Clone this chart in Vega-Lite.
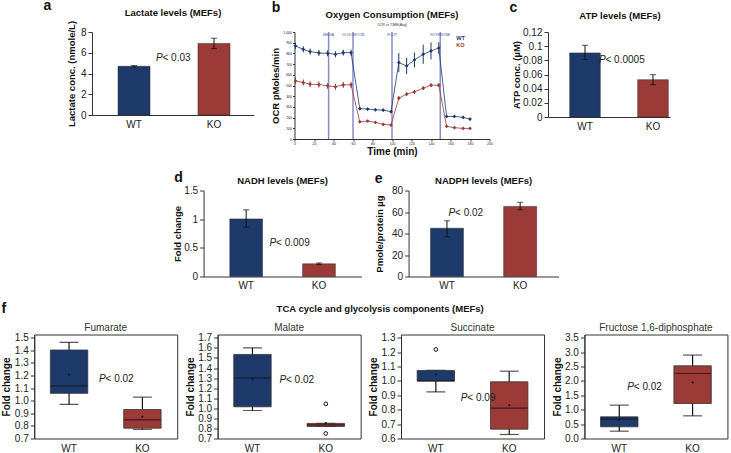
{
"$schema": "https://vega.github.io/schema/vega-lite/v6.json",
"padding": {"left": 1, "top": -1, "right": 2, "bottom": 0},
"background": "white",
"config": {
  "font": "Liberation Sans",
  "view": {"stroke": null},
  "axis": {"grid": false, "domainColor": "#333", "tickColor": "#333", "labelColor": "#222", "titleColor": "#111", "labelFontSize": 10, "titleFontSize": 9.5, "titleFontWeight": "bold", "tickSize": 4, "labelPadding": 2, "titlePadding": 4, "labelOverlap": false, "labelFlush": false, "labelFont": "Liberation Sans", "titleFont": "Liberation Sans"},
  "title": {"fontSize": 9.5, "fontWeight": "bold", "color": "#111", "font": "Liberation Sans"},
  "text": {"font": "Liberation Sans"}
},
"datasets": {
  "ocr": [
    {"t":1,"g":"WT","v":870,"lo":840,"hi":900},{"t":9,"g":"WT","v":838,"lo":810,"hi":866},{"t":16,"g":"WT","v":817,"lo":789,"hi":845},{"t":25,"g":"WT","v":804,"lo":776,"hi":832},{"t":34,"g":"WT","v":801,"lo":773,"hi":829},{"t":42,"g":"WT","v":792,"lo":764,"hi":820},{"t":50,"g":"WT","v":807,"lo":779,"hi":835},{"t":58,"g":"WT","v":807,"lo":779,"hi":835},
    {"t":67,"g":"WT","v":283,"lo":271,"hi":295},{"t":75,"g":"WT","v":280,"lo":268,"hi":292},{"t":83,"g":"WT","v":273,"lo":261,"hi":285},{"t":91,"g":"WT","v":270,"lo":258,"hi":282},{"t":99,"g":"WT","v":255,"lo":243,"hi":267},
    {"t":107,"g":"WT","v":714,"lo":624,"hi":804},{"t":115,"g":"WT","v":683,"lo":608,"hi":758},{"t":123,"g":"WT","v":739,"lo":669,"hi":809},{"t":132,"g":"WT","v":792,"lo":702,"hi":882},{"t":140,"g":"WT","v":823,"lo":743,"hi":903},{"t":148,"g":"WT","v":851,"lo":796,"hi":906},
    {"t":156,"g":"WT","v":211,"lo":199,"hi":223},{"t":164,"g":"WT","v":211,"lo":199,"hi":223},{"t":173,"g":"WT","v":202,"lo":190,"hi":214},{"t":180,"g":"WT","v":186,"lo":174,"hi":198},
    {"t":1,"g":"KO","v":543,"lo":513,"hi":573},{"t":9,"g":"KO","v":528,"lo":500,"hi":556},{"t":16,"g":"KO","v":512,"lo":484,"hi":540},{"t":25,"g":"KO","v":509,"lo":481,"hi":537},{"t":34,"g":"KO","v":497,"lo":469,"hi":525},{"t":42,"g":"KO","v":488,"lo":460,"hi":516},{"t":50,"g":"KO","v":506,"lo":478,"hi":534},{"t":58,"g":"KO","v":506,"lo":478,"hi":534},
    {"t":67,"g":"KO","v":161,"lo":151,"hi":171},{"t":75,"g":"KO","v":168,"lo":158,"hi":178},{"t":83,"g":"KO","v":155,"lo":145,"hi":165},{"t":91,"g":"KO","v":137,"lo":127,"hi":147},{"t":99,"g":"KO","v":130,"lo":120,"hi":140},
    {"t":107,"g":"KO","v":382,"lo":362,"hi":402},{"t":115,"g":"KO","v":419,"lo":401,"hi":437},{"t":123,"g":"KO","v":441,"lo":423,"hi":459},{"t":132,"g":"KO","v":475,"lo":457,"hi":493},{"t":140,"g":"KO","v":503,"lo":485,"hi":521},{"t":148,"g":"KO","v":503,"lo":485,"hi":521},
    {"t":156,"g":"KO","v":118,"lo":110,"hi":126},{"t":164,"g":"KO","v":106,"lo":98,"hi":114},{"t":173,"g":"KO","v":99,"lo":91,"hi":107},{"t":180,"g":"KO","v":99,"lo":91,"hi":107}
  ]
},
"center": true,
"spacing": 14.5,
"vconcat": [
 {
  "spacing": 16.5,
  "hconcat": [
   {
    "width": 162, "height": 83,
    "data": {"values": [{"g":"WT","v":4.7,"lo":4.64,"hi":4.76},{"g":"KO","v":6.9,"lo":6.4,"hi":7.4}]},
    "encoding": {"x": {"field":"g","type":"nominal","sort":["WT","KO"],"scale":{"paddingInner":0.6,"paddingOuter":0.3125,"align":0.52},"axis":{"title":null,"labelAngle":0,"ticks":false,"labelPadding":4}}},
    "layer": [
     {"mark":{"type":"bar","stroke":"#2a2a2a","strokeWidth":0.5},"encoding":{"y":{"field":"v","type":"quantitative","scale":{"domain":[0,8],"nice":false},"axis":{"title":"Lactate conc. (nmole/L)","values":[0,2,4,6,8],"format":"~g","tickCount":20,"labelOverlap":false,"titlePadding":4}},"color":{"field":"g","type":"nominal","scale":{"domain":["WT","KO"],"range":["#1e3a6b","#9b3a37"]},"legend":null}}},
     {"mark":{"type":"rule","color":"#111","strokeWidth":1},"encoding":{"y":{"field":"lo","type":"quantitative"},"y2":{"field":"hi"}}},
     {"mark":{"type":"tick","color":"#111","size":6,"thickness":1},"encoding":{"y":{"field":"lo","type":"quantitative"}}},
     {"mark":{"type":"tick","color":"#111","size":6,"thickness":1},"encoding":{"y":{"field":"hi","type":"quantitative"}}},
     {"data":{"values":[{"g":"WT","y":5.45,"p":"P","r":"< 0.03"}]},"mark":{"type":"text","align":"left","baseline":"middle","fontStyle":"italic","fontSize":10,"dx":22,"color":"#222"},"encoding":{"y":{"field":"y","type":"quantitative"},"text":{"field":"p"}}},
     {"data":{"values":[{"g":"WT","y":5.45,"p":"P","r":"< 0.03"}]},"mark":{"type":"text","align":"left","baseline":"middle","fontSize":10,"dx":28.5,"color":"#222"},"encoding":{"y":{"field":"y","type":"quantitative"},"text":{"field":"r"}}},
     {"data":{"values":[{"g":"WT","y":8,"t":"Lactate levels (MEFs)"}]},"mark":{"type":"text","align":"center","baseline":"middle","fontSize":9.5,"fontWeight":"bold","dx":39,"dy":-19,"color":"#111"},"encoding":{"y":{"field":"y","type":"quantitative"},"text":{"field":"t"}}},
     {"data":{"values":[{"g":"WT","y":8,"l":"a"}]},"mark":{"type":"text","align":"center","baseline":"alphabetic","fontSize":14,"fontWeight":"bold","dx":-86.5,"dy":-22,"color":"#111"},"encoding":{"y":{"field":"y","type":"quantitative"},"text":{"field":"l"}}}
    ]
   },
   {
    "width": 195, "height": 107,
    "layer": [
     {"data":{"values":[{"t":35,"lab":"MEDIA"},{"t":60,"lab":"OLIGOMYCIN"},{"t":100,"lab":"FCCP"},{"t":149.5,"lab":"ROTENONE"}]},
      "mark":{"type":"rule","color":"#8a8ec6","strokeWidth":1.5},
      "encoding":{"x":{"field":"t","type":"quantitative","scale":{"domain":[0,200],"nice":false},"axis":{"title":"Time (min)","values":[0,20,40,60,80,100,120,140,160,180,200],"tickCount":30,"labelOverlap":false,"labelFontSize":3.5,"tickSize":2,"labelPadding":0,"titleFontSize":10,"titlePadding":1.5}}}},
     {"data":{"values":[{"t":35,"lab":"MEDIA"},{"t":60,"lab":"OLIGOMYCIN"},{"t":100,"lab":"FCCP"},{"t":149.5,"lab":"ROTENONE"}]},
      "mark":{"type":"text","fontSize":3.5,"color":"#4a4e9a","baseline":"middle"},
      "encoding":{"x":{"field":"t","type":"quantitative"},"y":{"datum":975},"text":{"field":"lab"}}},
     {"data":{"name":"ocr"},"mark":{"type":"rule","strokeWidth":1},
      "encoding":{"x":{"field":"t","type":"quantitative"},"y":{"field":"lo","type":"quantitative","scale":{"domain":[0,1000],"nice":false},"axis":{"title":"OCR pMoles/min","values":[0,100,200,300,400,500,600,700,800,900,1000],"tickCount":30,"labelOverlap":false,"labelFontSize":3.5,"tickSize":2,"labelPadding":1,"titlePadding":2}},"y2":{"field":"hi"},"color":{"field":"g","type":"nominal","scale":{"domain":["WT","KO"],"range":["#3b3f9c","#e04a42"]},"legend":null}}},
     {"data":{"name":"ocr"},"mark":{"type":"line","strokeWidth":0.8},
      "encoding":{"x":{"field":"t","type":"quantitative"},"y":{"field":"v","type":"quantitative"},"color":{"field":"g","type":"nominal","legend":null}}},
     {"data":{"name":"ocr"},"mark":{"type":"point","shape":"diamond","filled":true,"size":14,"opacity":1},
      "encoding":{"x":{"field":"t","type":"quantitative"},"y":{"field":"v","type":"quantitative"},"color":{"field":"g","type":"nominal","legend":null}}},
     {"data":{"values":[{"t":166,"v":947,"g":"WT"},{"t":166,"v":876,"g":"KO"}]},"mark":{"type":"text","fontSize":5.5,"fontWeight":"bold","align":"left","baseline":"middle"},
      "encoding":{"x":{"field":"t","type":"quantitative"},"y":{"field":"v","type":"quantitative"},"text":{"field":"g"},"color":{"field":"g","type":"nominal","legend":null}}},
     {"data":{"values":[{"t":100,"v":1000,"s":"Oxygen Consumption (MEFs)"}]},"mark":{"type":"text","align":"center","baseline":"middle","fontSize":9.5,"fontWeight":"bold","dy":-17,"color":"#111"},
      "encoding":{"x":{"field":"t","type":"quantitative"},"y":{"field":"v","type":"quantitative"},"text":{"field":"s"}}},
     {"data":{"values":[{"t":100,"v":1000,"s":"OCR vs TIME(Avg)"}]},"mark":{"type":"text","align":"center","baseline":"middle","fontSize":3.5,"dy":-7.5,"color":"#333"},
      "encoding":{"x":{"field":"t","type":"quantitative"},"y":{"field":"v","type":"quantitative"},"text":{"field":"s"}}},
     {"data":{"values":[{"t":0,"v":1000,"l":"b"}]},"mark":{"type":"text","align":"center","baseline":"alphabetic","fontSize":14,"fontWeight":"bold","dx":-18.5,"dy":-20,"color":"#111"},
      "encoding":{"x":{"field":"t","type":"quantitative"},"y":{"field":"v","type":"quantitative"},"text":{"field":"l"}}}
    ]
   },
   {
    "width": 122, "height": 85,
    "data": {"values": [{"g":"WT","v":0.0905,"lo":0.0812,"hi":0.1012},{"g":"KO","v":0.0527,"lo":0.0456,"hi":0.0598}]},
    "encoding": {"x": {"field":"g","type":"nominal","sort":["WT","KO"],"scale":{"paddingInner":0.55,"paddingOuter":0.172,"align":0.927},"axis":{"title":null,"labelAngle":0,"ticks":false,"labelPadding":4}}},
    "layer": [
     {"mark":{"type":"bar","stroke":"#2a2a2a","strokeWidth":0.5},"encoding":{"y":{"field":"v","type":"quantitative","scale":{"domain":[0,0.12],"nice":false},"axis":{"title":"ATP conc. (µM)","values":[0,0.02,0.04,0.06,0.08,0.1,0.12],"tickCount":20,"labelOverlap":false,"format":"~g","titlePadding":1}},"color":{"field":"g","type":"nominal","scale":{"domain":["WT","KO"],"range":["#1e3a6b","#9b3a37"]},"legend":null}}},
     {"mark":{"type":"rule","color":"#111","strokeWidth":1},"encoding":{"y":{"field":"lo","type":"quantitative"},"y2":{"field":"hi"}}},
     {"mark":{"type":"tick","color":"#111","size":6,"thickness":1},"encoding":{"y":{"field":"lo","type":"quantitative"}}},
     {"mark":{"type":"tick","color":"#111","size":6,"thickness":1},"encoding":{"y":{"field":"hi","type":"quantitative"}}},
     {"data":{"values":[{"g":"WT","y":0.0805,"p":"P","r":"< 0.0005"}]},"mark":{"type":"text","align":"left","baseline":"middle","fontStyle":"italic","fontSize":10,"dx":14,"color":"#222"},"encoding":{"y":{"field":"y","type":"quantitative"},"text":{"field":"p"}}},
     {"data":{"values":[{"g":"WT","y":0.0805,"p":"P","r":"< 0.0005"}]},"mark":{"type":"text","align":"left","baseline":"middle","fontSize":10,"dx":20.5,"color":"#222"},"encoding":{"y":{"field":"y","type":"quantitative"},"text":{"field":"r"}}},
     {"data":{"values":[{"g":"WT","y":0.12,"t":"ATP levels (MEFs)"}]},"mark":{"type":"text","align":"center","baseline":"middle","fontSize":9.5,"fontWeight":"bold","dx":35,"dy":-16,"color":"#111"},"encoding":{"y":{"field":"y","type":"quantitative"},"text":{"field":"t"}}},
     {"data":{"values":[{"g":"WT","y":0.12,"l":"c"}]},"mark":{"type":"text","align":"center","baseline":"alphabetic","fontSize":14,"fontWeight":"bold","dx":-71.5,"dy":-20,"color":"#111"},"encoding":{"y":{"field":"y","type":"quantitative"},"text":{"field":"l"}}}
    ]
   }
  ]
 },
 {
  "center": true,
  "spacing": 11,
  "vconcat": [
   {
    "spacing": 12,
    "hconcat": [
     {
      "width": 158, "height": 86,
      "data": {"values": [{"g":"WT","v":1.005,"lo":0.86,"hi":1.163},{"g":"KO","v":0.221,"lo":0.206,"hi":0.236}]},
      "encoding": {"x": {"field":"g","type":"nominal","sort":["WT","KO"],"scale":{"paddingInner":0.55,"paddingOuter":0.36},"axis":{"title":null,"labelAngle":0,"ticks":false,"labelPadding":4}}},
      "layer": [
       {"mark":{"type":"bar","stroke":"#2a2a2a","strokeWidth":0.5},"encoding":{"y":{"field":"v","type":"quantitative","scale":{"domain":[0,1.5],"nice":false},"axis":{"title":"Fold change","values":[0,0.5,1,1.5],"tickCount":20,"labelOverlap":false,"format":"~g","titlePadding":1}},"color":{"field":"g","type":"nominal","scale":{"domain":["WT","KO"],"range":["#1e3a6b","#9b3a37"]},"legend":null}}},
       {"mark":{"type":"rule","color":"#111","strokeWidth":1},"encoding":{"y":{"field":"lo","type":"quantitative"},"y2":{"field":"hi"}}},
       {"mark":{"type":"tick","color":"#111","size":6,"thickness":1},"encoding":{"y":{"field":"lo","type":"quantitative"}}},
       {"mark":{"type":"tick","color":"#111","size":6,"thickness":1},"encoding":{"y":{"field":"hi","type":"quantitative"}}},
       {"data":{"values":[{"g":"WT","y":0.576,"p":"P","r":"< 0.009"}]},"mark":{"type":"text","align":"left","baseline":"middle","fontStyle":"italic","fontSize":10,"dx":23.4,"color":"#222"},"encoding":{"y":{"field":"y","type":"quantitative"},"text":{"field":"p"}}},
       {"data":{"values":[{"g":"WT","y":0.576,"p":"P","r":"< 0.009"}]},"mark":{"type":"text","align":"left","baseline":"middle","fontSize":10,"dx":29.9,"color":"#222"},"encoding":{"y":{"field":"y","type":"quantitative"},"text":{"field":"r"}}},
       {"data":{"values":[{"g":"WT","y":1.5,"t":"NADH levels (MEFs)"}]},"mark":{"type":"text","align":"center","baseline":"middle","fontSize":9.5,"fontWeight":"bold","dx":36.4,"dy":-9.3,"color":"#111"},"encoding":{"y":{"field":"y","type":"quantitative"},"text":{"field":"t"}}},
       {"data":{"values":[{"g":"WT","y":1.5,"l":"d"}]},"mark":{"type":"text","align":"center","baseline":"alphabetic","fontSize":14,"fontWeight":"bold","dx":-67.6,"dy":-8.3,"color":"#111"},"encoding":{"y":{"field":"y","type":"quantitative"},"text":{"field":"l"}}}
      ]
     },
     {
      "width": 150, "height": 86,
      "data": {"values": [{"g":"WT","v":44.9,"lo":37,"hi":51.8},{"g":"KO","v":65.2,"lo":62.1,"hi":69}]},
      "encoding": {"x": {"field":"g","type":"nominal","sort":["WT","KO"],"scale":{"paddingInner":0.55,"paddingOuter":0.3},"axis":{"title":null,"labelAngle":0,"ticks":false,"labelPadding":4}}},
      "layer": [
       {"mark":{"type":"bar","stroke":"#2a2a2a","strokeWidth":0.5},"encoding":{"y":{"field":"v","type":"quantitative","scale":{"domain":[0,80],"nice":false},"axis":{"title":"Pmole/protein µg","values":[0,20,40,60,80],"tickCount":20,"labelOverlap":false,"titlePadding":7}},"color":{"field":"g","type":"nominal","scale":{"domain":["WT","KO"],"range":["#1e3a6b","#9b3a37"]},"legend":null}}},
       {"mark":{"type":"rule","color":"#111","strokeWidth":1},"encoding":{"y":{"field":"lo","type":"quantitative"},"y2":{"field":"hi"}}},
       {"mark":{"type":"tick","color":"#111","size":6,"thickness":1},"encoding":{"y":{"field":"lo","type":"quantitative"}}},
       {"mark":{"type":"tick","color":"#111","size":6,"thickness":1},"encoding":{"y":{"field":"hi","type":"quantitative"}}},
       {"data":{"values":[{"g":"WT","y":59.5,"p":"P","r":"< 0.02"}]},"mark":{"type":"text","align":"left","baseline":"middle","fontStyle":"italic","fontSize":10,"dx":1.6,"color":"#222"},"encoding":{"y":{"field":"y","type":"quantitative"},"text":{"field":"p"}}},
       {"data":{"values":[{"g":"WT","y":59.5,"p":"P","r":"< 0.02"}]},"mark":{"type":"text","align":"left","baseline":"middle","fontSize":10,"dx":8.1,"color":"#222"},"encoding":{"y":{"field":"y","type":"quantitative"},"text":{"field":"r"}}},
       {"data":{"values":[{"g":"WT","y":80,"t":"NADPH levels (MEFs)"}]},"mark":{"type":"text","align":"center","baseline":"middle","fontSize":9.5,"fontWeight":"bold","dx":36.6,"dy":-10,"color":"#111"},"encoding":{"y":{"field":"y","type":"quantitative"},"text":{"field":"t"}}},
       {"data":{"values":[{"g":"WT","y":80,"l":"e"}]},"mark":{"type":"text","align":"center","baseline":"alphabetic","fontSize":14,"fontWeight":"bold","dx":-68.4,"dy":-8,"color":"#111"},"encoding":{"y":{"field":"y","type":"quantitative"},"text":{"field":"l"}}}
      ]
     }
    ]
   },
   {
    "title": {"text": "f", "fontSize": 14, "fontWeight": "bold", "anchor": "start", "frame": "bounds", "offset": -11.5},
    "vconcat": [
     {
      "title": {"text": "TCA cycle and glycolysis components (MEFs)", "frame": "bounds", "anchor": "middle", "offset": 8.5, "dx": 15.5},
      "spacing": 6.4,
      "hconcat": [
       {
        "width": 143, "height": 104,
        "view": {"stroke": "#333", "strokeWidth": 1},
        "title": {"text": "Fumarate", "fontWeight": "normal", "fontSize": 10, "offset": 0, "color": "#333", "frame": "group", "anchor": "middle"},
        "data": {"values": [{"g":"WT","lo":0.97,"q1":1.058,"med":1.118,"q3":1.402,"hi":1.463,"mean":1.205},{"g":"KO","lo":0.772,"q1":0.782,"med":0.848,"q3":0.93,"hi":1.028,"mean":0.872}]},
        "encoding": {"x": {"field":"g","type":"nominal","sort":["WT","KO"],"scale":{"paddingInner":0.49,"paddingOuter":0.22},"axis":{"title":null,"labelAngle":0,"ticks":false,"domain":false,"labelPadding":5}}},
        "layer": [
         {"mark":{"type":"rule","color":"#111","strokeWidth":1.2},"encoding":{"y":{"field":"lo","type":"quantitative","scale":{"domain":[0.7,1.525],"nice":false,"zero":false},"axis":{"title":"Fold change","titleFontSize":10,"values":[0.7,0.8,0.9,1.0,1.1,1.2,1.3,1.4,1.5],"tickCount":30,"labelOverlap":false,"format":".1f","titlePadding":2.4}},"y2":{"field":"hi"}}},
         {"mark":{"type":"tick","color":"#111","size":19,"thickness":1.2},"encoding":{"y":{"field":"lo","type":"quantitative"}}},
         {"mark":{"type":"tick","color":"#111","size":19,"thickness":1.2},"encoding":{"y":{"field":"hi","type":"quantitative"}}},
         {"mark":{"type":"bar","stroke":"#333","strokeWidth":0.8},"encoding":{"y":{"field":"q1","type":"quantitative"},"y2":{"field":"q3"},"color":{"field":"g","type":"nominal","scale":{"domain":["WT","KO"],"range":["#1e3a6b","#9b3a37"]},"legend":null}}},
         {"mark":{"type":"tick","color":"#111","size":37,"thickness":1.2},"encoding":{"y":{"field":"med","type":"quantitative"}}},
         {"mark":{"type":"point","filled":true,"color":"#111","size":4,"opacity":1},"encoding":{"y":{"field":"mean","type":"quantitative"}}},
         {"data":{"values":[{"g":"WT","y":1.175,"p":"P","r":"< 0.02"}]},"mark":{"type":"text","align":"left","baseline":"middle","fontStyle":"italic","fontSize":10,"dx":30,"color":"#222"},"encoding":{"y":{"field":"y","type":"quantitative"},"text":{"field":"p"}}},
         {"data":{"values":[{"g":"WT","y":1.175,"p":"P","r":"< 0.02"}]},"mark":{"type":"text","align":"left","baseline":"middle","fontSize":10,"dx":36.5,"color":"#222"},"encoding":{"y":{"field":"y","type":"quantitative"},"text":{"field":"r"}}}
        ]
       },
       {
        "width": 143, "height": 104,
        "view": {"stroke": "#333", "strokeWidth": 1},
        "title": {"text": "Malate", "fontWeight": "normal", "fontSize": 10, "offset": 0, "color": "#333", "frame": "group", "anchor": "middle"},
        "data": {"values": [{"g":"WT","lo":0.978,"q1":1.015,"med":1.302,"q3":1.535,"hi":1.6,"mean":1.29},{"g":"KO","lo":0.82,"q1":0.82,"med":0.835,"q3":0.85,"hi":0.85,"mean":0.855}]},
        "encoding": {"x": {"field":"g","type":"nominal","sort":["WT","KO"],"scale":{"paddingInner":0.49,"paddingOuter":0.22},"axis":{"title":null,"labelAngle":0,"ticks":false,"domain":false,"labelPadding":5}}},
        "layer": [
         {"mark":{"type":"rule","color":"#111","strokeWidth":1.2},"encoding":{"y":{"field":"lo","type":"quantitative","scale":{"domain":[0.7,1.733],"nice":false,"zero":false},"axis":{"title":"Fold change","titleFontSize":10,"values":[0.7,0.8,0.9,1.0,1.1,1.2,1.3,1.4,1.5,1.6,1.7],"tickCount":30,"labelOverlap":false,"format":".1f","titlePadding":2.4}},"y2":{"field":"hi"}}},
         {"mark":{"type":"tick","color":"#111","size":19,"thickness":1.2},"encoding":{"y":{"field":"lo","type":"quantitative"}}},
         {"mark":{"type":"tick","color":"#111","size":19,"thickness":1.2},"encoding":{"y":{"field":"hi","type":"quantitative"}}},
         {"mark":{"type":"bar","stroke":"#333","strokeWidth":0.8},"encoding":{"y":{"field":"q1","type":"quantitative"},"y2":{"field":"q3"},"color":{"field":"g","type":"nominal","scale":{"domain":["WT","KO"],"range":["#1e3a6b","#9b3a37"]},"legend":null}}},
         {"mark":{"type":"tick","color":"#111","size":37,"thickness":1.2},"encoding":{"y":{"field":"med","type":"quantitative"}}},
         {"mark":{"type":"point","filled":true,"color":"#111","size":4,"opacity":1},"encoding":{"y":{"field":"mean","type":"quantitative"}}},
         {"data":{"values":[{"g":"KO","o":1.044},{"g":"KO","o":0.75}]},"mark":{"type":"point","filled":false,"color":"#111","strokeWidth":1,"size":14,"opacity":1},"encoding":{"y":{"field":"o","type":"quantitative"}}},
         {"data":{"values":[{"g":"WT","y":1.277,"p":"P","r":"< 0.02"}]},"mark":{"type":"text","align":"left","baseline":"middle","fontStyle":"italic","fontSize":10,"dx":27,"color":"#222"},"encoding":{"y":{"field":"y","type":"quantitative"},"text":{"field":"p"}}},
         {"data":{"values":[{"g":"WT","y":1.277,"p":"P","r":"< 0.02"}]},"mark":{"type":"text","align":"left","baseline":"middle","fontSize":10,"dx":33.5,"color":"#222"},"encoding":{"y":{"field":"y","type":"quantitative"},"text":{"field":"r"}}}
        ]
       },
       {
        "width": 143, "height": 104,
        "view": {"stroke": "#333", "strokeWidth": 1},
        "title": {"text": "Succinate", "fontWeight": "normal", "fontSize": 10, "offset": 0, "color": "#333", "frame": "group", "anchor": "middle"},
        "data": {"values": [{"g":"WT","lo":0.924,"q1":0.999,"med":1.0,"q3":1.073,"hi":1.073,"mean":1.045},{"g":"KO","lo":0.628,"q1":0.665,"med":0.811,"q3":0.994,"hi":1.068,"mean":0.832}]},
        "encoding": {"x": {"field":"g","type":"nominal","sort":["WT","KO"],"scale":{"paddingInner":0.49,"paddingOuter":0.22},"axis":{"title":null,"labelAngle":0,"ticks":false,"domain":false,"labelPadding":5}}},
        "layer": [
         {"mark":{"type":"rule","color":"#111","strokeWidth":1.2},"encoding":{"y":{"field":"lo","type":"quantitative","scale":{"domain":[0.6,1.323],"nice":false,"zero":false},"axis":{"title":"Fold change","titleFontSize":10,"values":[0.6,0.7,0.8,0.9,1.0,1.1,1.2,1.3],"tickCount":30,"labelOverlap":false,"format":".1f","titlePadding":2.4}},"y2":{"field":"hi"}}},
         {"mark":{"type":"tick","color":"#111","size":19,"thickness":1.2},"encoding":{"y":{"field":"lo","type":"quantitative"}}},
         {"mark":{"type":"tick","color":"#111","size":19,"thickness":1.2},"encoding":{"y":{"field":"hi","type":"quantitative"}}},
         {"mark":{"type":"bar","stroke":"#333","strokeWidth":0.8},"encoding":{"y":{"field":"q1","type":"quantitative"},"y2":{"field":"q3"},"color":{"field":"g","type":"nominal","scale":{"domain":["WT","KO"],"range":["#1e3a6b","#9b3a37"]},"legend":null}}},
         {"mark":{"type":"tick","color":"#111","size":37,"thickness":1.2},"encoding":{"y":{"field":"med","type":"quantitative"}}},
         {"mark":{"type":"point","filled":true,"color":"#111","size":4,"opacity":1},"encoding":{"y":{"field":"mean","type":"quantitative"}}},
         {"data":{"values":[{"g":"WT","o":1.219}]},"mark":{"type":"point","filled":false,"color":"#111","strokeWidth":1,"size":14,"opacity":1},"encoding":{"y":{"field":"o","type":"quantitative"}}},
         {"data":{"values":[{"g":"WT","y":0.884,"p":"P","r":"< 0.09"}]},"mark":{"type":"text","align":"left","baseline":"middle","fontStyle":"italic","fontSize":10,"dx":25,"color":"#222"},"encoding":{"y":{"field":"y","type":"quantitative"},"text":{"field":"p"}}},
         {"data":{"values":[{"g":"WT","y":0.884,"p":"P","r":"< 0.09"}]},"mark":{"type":"text","align":"left","baseline":"middle","fontSize":10,"dx":31.5,"color":"#222"},"encoding":{"y":{"field":"y","type":"quantitative"},"text":{"field":"r"}}}
        ]
       },
       {
        "width": 143, "height": 104,
        "view": {"stroke": "#333", "strokeWidth": 1},
        "title": {"text": "Fructose 1,6-diphosphate", "fontWeight": "normal", "fontSize": 10, "offset": 0, "color": "#333", "frame": "group", "anchor": "middle"},
        "data": {"values": [{"g":"WT","lo":0.255,"q1":0.406,"med":0.68,"q3":0.753,"hi":1.159,"mean":0.66},{"g":"KO","lo":0.788,"q1":1.217,"med":2.26,"q3":2.526,"hi":2.9,"mean":1.947}]},
        "encoding": {"x": {"field":"g","type":"nominal","sort":["WT","KO"],"scale":{"paddingInner":0.49,"paddingOuter":0.22},"axis":{"title":null,"labelAngle":0,"ticks":false,"domain":false,"labelPadding":5}}},
        "layer": [
         {"mark":{"type":"rule","color":"#111","strokeWidth":1.2},"encoding":{"y":{"field":"lo","type":"quantitative","scale":{"domain":[0,3.615],"nice":false,"zero":false},"axis":{"title":"Fold change","titleFontSize":10,"values":[0,0.5,1,1.5,2,2.5,3,3.5],"tickCount":30,"labelOverlap":false,"format":".1f","titlePadding":2.4}},"y2":{"field":"hi"}}},
         {"mark":{"type":"tick","color":"#111","size":19,"thickness":1.2},"encoding":{"y":{"field":"lo","type":"quantitative"}}},
         {"mark":{"type":"tick","color":"#111","size":19,"thickness":1.2},"encoding":{"y":{"field":"hi","type":"quantitative"}}},
         {"mark":{"type":"bar","stroke":"#333","strokeWidth":0.8},"encoding":{"y":{"field":"q1","type":"quantitative"},"y2":{"field":"q3"},"color":{"field":"g","type":"nominal","scale":{"domain":["WT","KO"],"range":["#1e3a6b","#9b3a37"]},"legend":null}}},
         {"mark":{"type":"tick","color":"#111","size":37,"thickness":1.2},"encoding":{"y":{"field":"med","type":"quantitative"}}},
         {"mark":{"type":"point","filled":true,"color":"#111","size":4,"opacity":1},"encoding":{"y":{"field":"mean","type":"quantitative"}}},
         {"data":{"values":[{"g":"WT","y":1.8,"p":"P","r":"< 0.02"}]},"mark":{"type":"text","align":"left","baseline":"middle","fontStyle":"italic","fontSize":10,"dx":8,"color":"#222"},"encoding":{"y":{"field":"y","type":"quantitative"},"text":{"field":"p"}}},
         {"data":{"values":[{"g":"WT","y":1.8,"p":"P","r":"< 0.02"}]},"mark":{"type":"text","align":"left","baseline":"middle","fontSize":10,"dx":14.5,"color":"#222"},"encoding":{"y":{"field":"y","type":"quantitative"},"text":{"field":"r"}}}
        ]
       }
      ]
     }
    ]
   }
  ]
 }
]
}
